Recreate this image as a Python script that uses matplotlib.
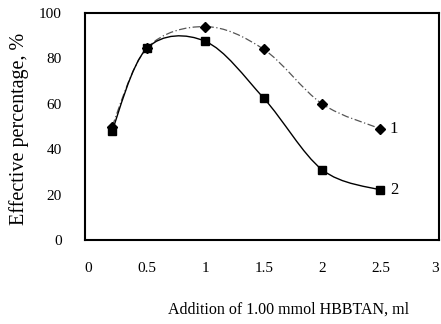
import matplotlib.pyplot as plt
from matplotlib.path import Path
from matplotlib.patches import PathPatch

plt.rcParams['font.family'] = ['Liberation Serif', 'DejaVu Serif']

# data
x = [0.2, 0.5, 1.0, 1.5, 2.0, 2.5]
series1 = [50, 84.5, 94, 84, 60, 49]   # curve 1, diamonds
series2 = [48, 84.5, 87.5, 62.5, 31, 22]  # curve 2, squares
xticks = [0, 0.5, 1, 1.5, 2, 2.5, 3]
xtick_labels = ['0', '0.5', '1', '1.5', '2', '2.5', '3']
yticks = [0, 20, 40, 60, 80, 100]


# smooth line through the points (Excel-like bezier)
def smooth_path(xs, ys):
    pts = list(zip(xs, ys))
    verts = [pts[0]]
    codes = [Path.MOVETO]
    n = len(pts)
    for i in range(n - 1):
        p0 = pts[i - 1] if i > 0 else pts[i]
        p1 = pts[i]
        p2 = pts[i + 1]
        p3 = pts[i + 2] if i + 2 < n else pts[i + 1]
        c1 = (p1[0] + (p2[0] - p0[0]) / 6, p1[1] + (p2[1] - p0[1]) / 6)
        c2 = (p2[0] - (p3[0] - p1[0]) / 6, p2[1] - (p3[1] - p1[1]) / 6)
        verts += [c1, c2, p2]
        codes += [Path.CURVE4] * 3
    return Path(verts, codes)


fig = plt.figure(figsize=(4.41, 3.24), dpi=100)
ax = fig.add_axes([0.193, 0.259, 0.802, 0.701])

ax.add_patch(PathPatch(smooth_path(x, series1), fill=False, edgecolor='#555555',
                       lw=0.9, linestyle=(0, (6, 2, 1, 2))))
ax.add_patch(PathPatch(smooth_path(x, series2), fill=False, edgecolor='black', lw=1.0))
ax.plot(x, series1, linestyle='none', marker='D', markersize=5, color='black')
ax.plot(x, series2, linestyle='none', marker='s', markersize=6, color='black')

ax.text(2.58, series1[-1], '1', fontsize=12, va='center', ha='left')
ax.text(2.58, series2[-1], '2', fontsize=12, va='center', ha='left')

ax.set_xlim(-0.03, 2.99)
ax.set_ylim(0, 100)
ax.set_xticks(xticks)
ax.set_xticklabels(xtick_labels)
ax.set_yticks(yticks)
ax.tick_params(length=0, labelsize=11, pad=16)
ax.tick_params(axis='y', pad=17)
ax.get_xticklabels()[-1].set_horizontalalignment('right')
for s in ax.spines.values():
    s.set_linewidth(1.5)

ax.set_xlabel('Addition of 1.00 mmol HBBTAN, ml', fontsize=11.5)
ax.xaxis.set_label_coords(0.576, -0.27)
ax.set_ylabel('Effective percentage, %', fontsize=14.5)
ax.yaxis.set_label_coords(-0.16, 0.49)

fig.savefig('out.png', dpi=100)
